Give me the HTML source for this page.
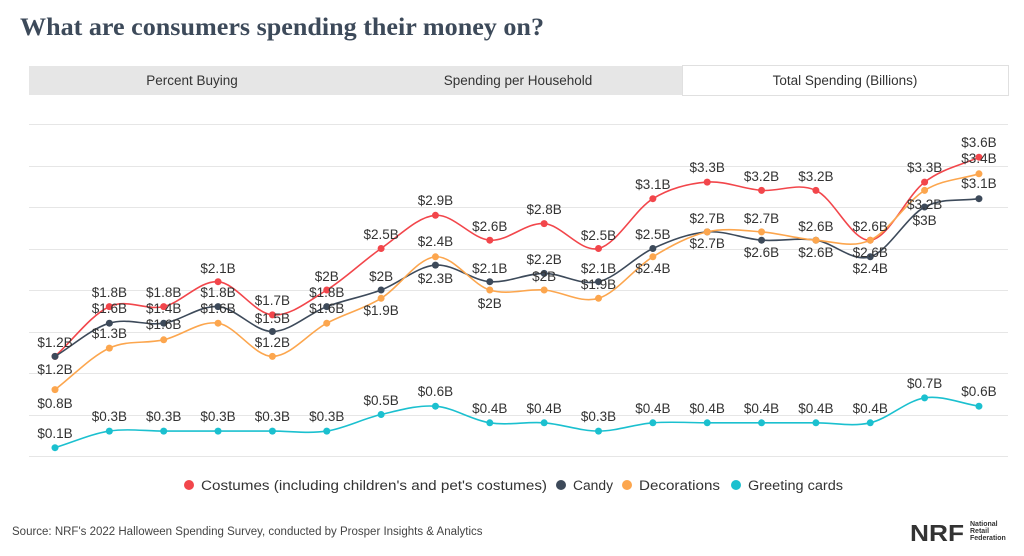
<!DOCTYPE html>
<html><head><meta charset="utf-8"><style>
body{margin:0;background:#fff;width:1024px;height:551px;overflow:hidden;font-family:"Liberation Sans",sans-serif}
svg text{font-family:"Liberation Sans",sans-serif}
</style></head><body>
<svg id="s" width="1024" height="551" xmlns="http://www.w3.org/2000/svg">
<text x="20" y="35" font-family="Liberation Serif" font-weight="bold" font-size="25" fill="#3d4a5a" textLength="524" lengthAdjust="spacingAndGlyphs" style="font-family:'Liberation Serif',serif">What are consumers spending their money on?</text>
<rect x="29" y="66" width="979" height="29" fill="#e6e6e6"/>
<rect x="682.5" y="65.5" width="326" height="30" fill="#fff" stroke="#e0e0e0"/>
<text x="192" y="85" font-size="13.5" fill="#333" text-anchor="middle">Percent Buying</text>
<text x="518" y="85" font-size="13.5" fill="#333" text-anchor="middle">Spending per Household</text>
<text x="845" y="85" font-size="13.5" fill="#333" text-anchor="middle">Total Spending (Billions)</text>
<g id="grid"></g><g id="lines"></g><g id="labels"></g>
<g font-size="13.5" fill="#333">
<circle cx="189" cy="485" r="5" fill="#f2464b"/><text x="201" y="490" textLength="346" lengthAdjust="spacingAndGlyphs">Costumes (including children's and pet's costumes)</text>
<circle cx="561" cy="485" r="5" fill="#3d4a5a"/><text x="573" y="490" textLength="40" lengthAdjust="spacingAndGlyphs">Candy</text>
<circle cx="627" cy="485" r="5" fill="#fca64e"/><text x="639" y="490" textLength="81" lengthAdjust="spacingAndGlyphs">Decorations</text>
<circle cx="736" cy="485" r="5" fill="#1bc0cf"/><text x="748" y="490" textLength="95" lengthAdjust="spacingAndGlyphs">Greeting cards</text>
</g>
<text x="12" y="535" font-size="11.5" fill="#444">Source: NRF's 2022 Halloween Spending Survey, conducted by Prosper Insights &amp; Analytics</text>
<text x="910" y="541" font-size="23" font-weight="bold" fill="#333" textLength="54" lengthAdjust="spacingAndGlyphs">NRF</text>
<text x="970" y="526" font-size="7" font-weight="bold" fill="#333">National</text>
<text x="970" y="533" font-size="7" font-weight="bold" fill="#333">Retail</text>
<text x="970" y="540" font-size="7" font-weight="bold" fill="#333">Federation</text>
</svg>
<script>
var NS="http://www.w3.org/2000/svg";
function el(p,t,a,txt){var e=document.createElementNS(NS,t);for(var k in a)e.setAttribute(k,a[k]);if(txt!=null)e.textContent=txt;document.getElementById(p).appendChild(e);}
[124,166,207,249,290,332,373,415,456].forEach(function(y){el("grid","line",{x1:29,x2:1008,y1:y+0.5,y2:y+0.5,stroke:"#e6e6e6","stroke-width":1});});
var X=[];for(var i=0;i<18;i++)X.push(55+i*54.35);
function Y(v){return 456-83*v;}
var S=[
{c:"#f2464b",v:[1.2,1.8,1.8,2.1,1.7,2,2.5,2.9,2.6,2.8,2.5,3.1,3.3,3.2,3.2,2.6,3.3,3.6],
 ly:[342,292,292,268,300,276,234,200,226,209,235,184,167,176,176,226,167,142]},
{c:"#3d4a5a",v:[1.2,1.6,1.6,1.8,1.5,1.8,2,2.3,2.1,2.2,2.1,2.5,2.7,2.6,2.6,2.4,3.0,3.1],
 ly:[369,308,324,292,318,292,276,278,268,259,268,234,243,252,252,268,220,183]},
{c:"#fca64e",v:[0.8,1.3,1.4,1.6,1.2,1.6,1.9,2.4,2,2,1.9,2.4,2.7,2.7,2.6,2.6,3.2,3.4],
 ly:[403,333,308,308,342,308,310,241,303,276,284,268,218,218,226,252,204,158]},
{c:"#1bc0cf",v:[0.1,0.3,0.3,0.3,0.3,0.3,0.5,0.6,0.4,0.4,0.3,0.4,0.4,0.4,0.4,0.4,0.7,0.6],
 ly:[433,416,416,416,416,416,400,391,408,408,416,408,408,408,408,408,383,391]}];
S.forEach(function(s){
 var P=s.v.map(function(v,i){return [X[i],Y(v)];});
 var d="M"+P[0][0]+","+P[0][1];
 for(var i=0;i<P.length-1;i++){
  var p0=P[Math.max(i-1,0)],p1=P[i],p2=P[i+1],p3=P[Math.min(i+2,P.length-1)];
  var t=1/6;
  var c1=[p1[0]+(p2[0]-p0[0])*t,p1[1]+(p2[1]-p0[1])*t];
  var c2=[p2[0]-(p3[0]-p1[0])*t,p2[1]-(p3[1]-p1[1])*t];
  if(i==0)c1=[p1[0]+(p2[0]-p1[0])/3,p1[1]+(p2[1]-p1[1])/3];
  if(i==P.length-2)c2=[p2[0]-(p2[0]-p1[0])/3,p2[1]-(p2[1]-p1[1])/3];
  d+=" C"+c1+" "+c2+" "+p2;
 }
 el("lines","path",{d:d,fill:"none",stroke:s.c,"stroke-width":1.6});
 P.forEach(function(p){el("lines","circle",{cx:p[0],cy:p[1],r:3.5,fill:s.c});});
});
S.forEach(function(s){
 s.v.forEach(function(v,i){el("labels","text",{x:X[i],y:s.ly[i]+5,"font-size":13.5,fill:"#333","text-anchor":"middle"},"$"+v+"B");});
});
</script>
</body></html>
